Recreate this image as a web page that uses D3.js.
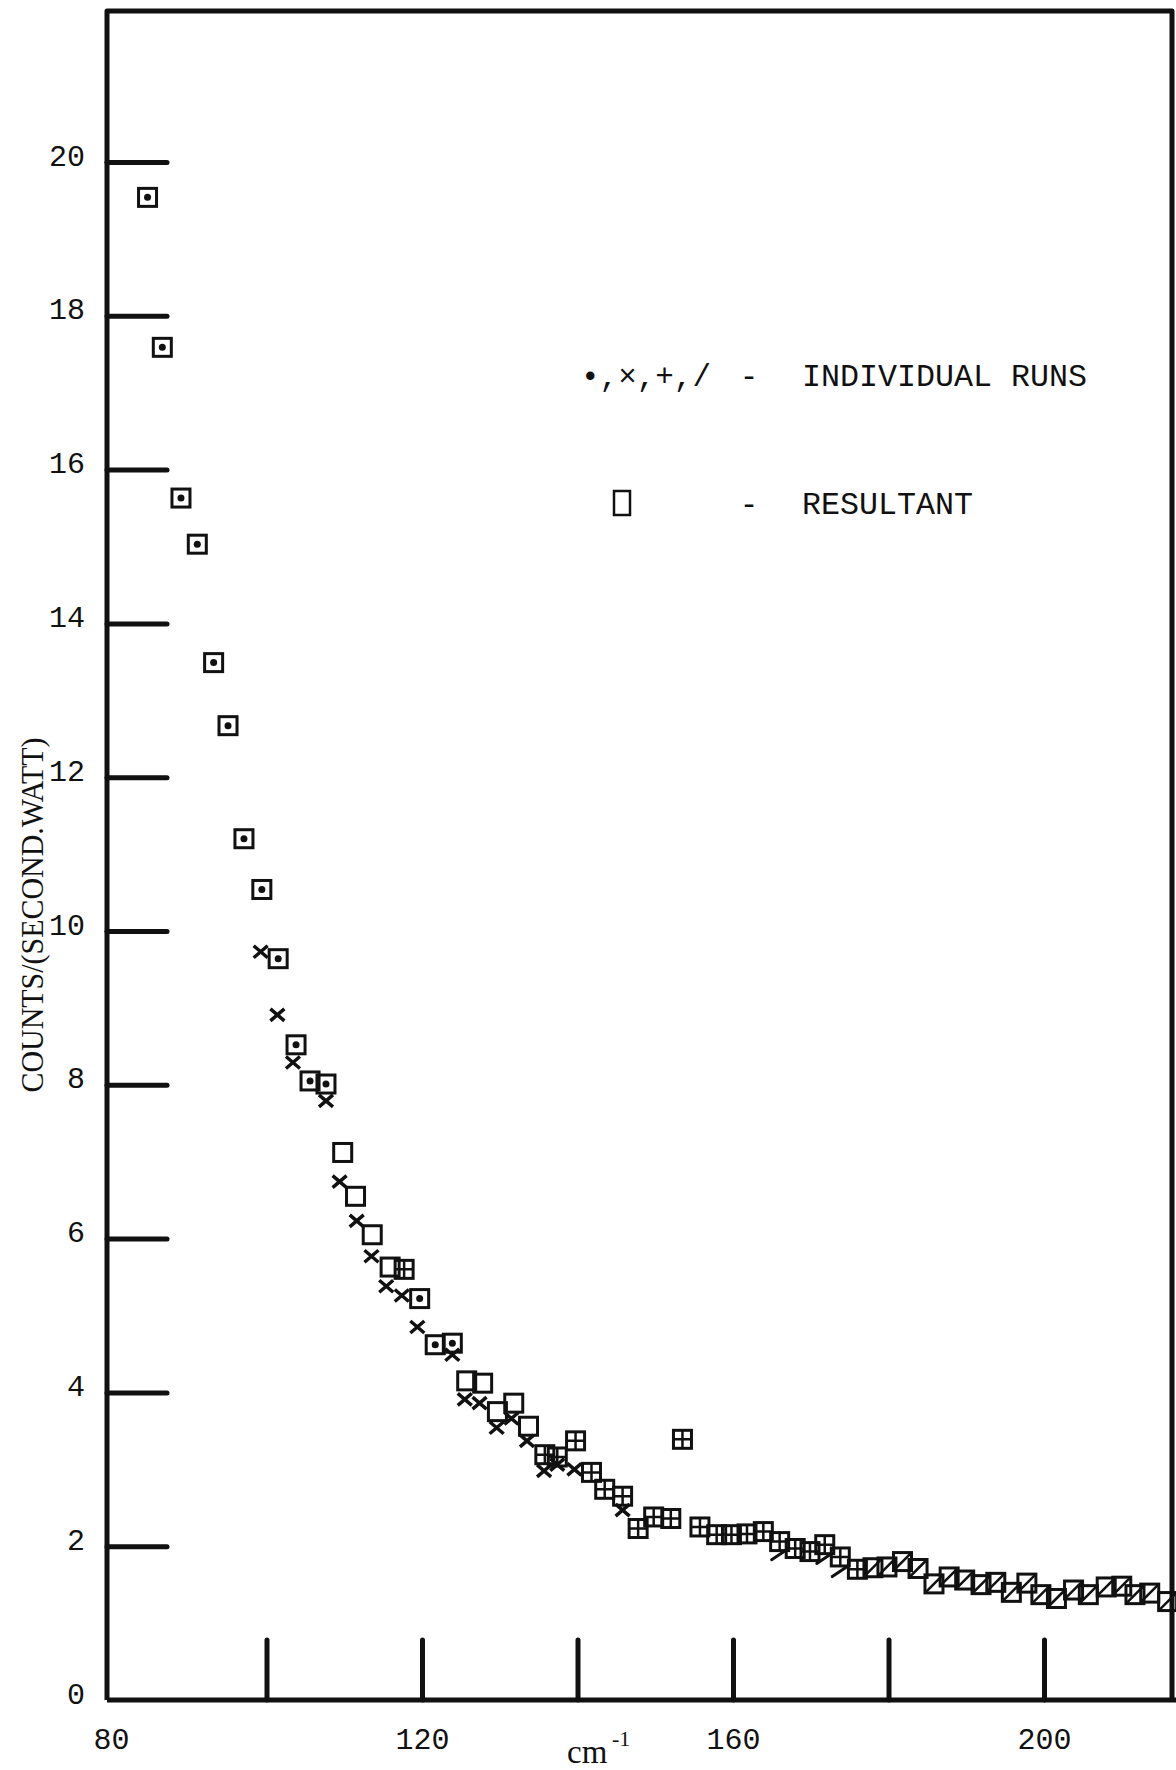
<!DOCTYPE html>
<html>
<head>
<meta charset="utf-8">
<script src="https://cdn.jsdelivr.net/npm/d3@7"></script>
<style>
body { margin: 0; background: #fff; }
</style>
</head>
<body>
<div id="vis"></div>
<script>
// resultant points (squares): wavenumber cm-1, counts/(second.watt), mark inside the square
var resultX = [84.7, 86.6, 89.0, 91.1, 93.2, 95.05, 97.1, 99.4, 101.5, 103.8, 105.6, 107.65,
    109.8, 111.45, 113.6, 115.9, 117.7, 119.7, 121.7, 123.9, 125.75, 127.8, 129.7, 131.8, 133.7,
    135.8, 137.4, 139.75, 141.8, 143.5, 145.8, 147.8, 149.8, 152.0, 153.5, 155.75, 157.9, 159.8,
    161.8, 163.9, 166.0, 168.0, 169.9, 171.8, 173.8, 176.0, 178.0, 179.8, 181.8, 183.8, 185.85,
    187.8, 189.8, 191.9, 193.8, 195.8, 197.8, 199.6, 201.6, 203.8, 205.7, 208.0, 210.0, 211.7,
    213.6, 215.9];
var resultY = [19.54, 17.59, 15.63, 15.03, 13.49, 12.67, 11.2, 10.54, 9.64, 8.52, 8.05, 8.01,
    7.12, 6.55, 6.05, 5.63, 5.60, 5.22, 4.62, 4.64, 4.15, 4.12, 3.75, 3.86, 3.56,
    3.19, 3.16, 3.37, 2.96, 2.74, 2.65, 2.23, 2.38, 2.36, 3.39, 2.25, 2.15, 2.15,
    2.16, 2.19, 2.06, 1.97, 1.93, 2.02, 1.86, 1.70, 1.72, 1.73, 1.80, 1.71, 1.51,
    1.60, 1.56, 1.50, 1.53, 1.40, 1.52, 1.37, 1.32, 1.43, 1.37, 1.47, 1.48, 1.37,
    1.39, 1.28];
var resultMark = ["dot", "dot", "dot", "dot", "dot", "dot", "dot", "dot", "dot", "dot", "dot", "dot",
    "none", "none", "none", "none", "plus", "dot", "dot", "dot", "none", "none", "none", "none", "none",
    "plus", "plus", "plus", "plus", "plus", "plus", "plus", "plus", "plus", "plus", "plus", "plus", "plus",
    "plus", "plus", "plus", "plus", "plus", "plus", "plus", "plus", "slash", "slash", "slash", "slash", "slash",
    "slash", "slash", "slash", "slash", "slash", "slash", "slash", "slash", "slash", "slash", "slash", "slash", "slash",
    "slash", "slash"];

// individual run points drawn as x
var crossX = [99.25, 101.4, 103.4, 107.65, 109.4, 111.6, 113.5, 115.4, 117.4, 119.4, 123.9,
    125.5, 127.4, 129.6, 131.5, 133.5, 135.7, 137.4, 139.6, 145.8];
var crossY = [9.73, 8.91, 8.29, 7.79, 6.74, 6.23, 5.77, 5.38, 5.26, 4.85, 4.49,
    3.91, 3.86, 3.54, 3.66, 3.37, 2.98, 3.06, 3.0, 2.47];

// individual run points drawn as /
var slashX = [166.0, 171.8, 173.8];
var slashY = [1.89, 1.84, 1.67];

var yTicks = [0, 2, 4, 6, 8, 10, 12, 14, 16, 18, 20];
var xTicks = [80, 100, 120, 140, 160, 180, 200];
var xLabels = [80, 120, 160, 200];
var legendLabels = ["INDIVIDUAL RUNS", "RESULTANT"];

var width = 1176, height = 1770;
var ink = "#111";
var mono = "'Liberation Mono', 'DejaVu Sans Mono', monospace";
var serif = "'Liberation Serif', 'DejaVu Serif', serif";

var svg = d3.select("#vis").append("svg")
    .attr("width", width)
    .attr("height", height);

var x = d3.scaleLinear().domain([80, 200]).range([111, 1044]);
var y = d3.scaleLinear().domain([0, 20]).range([1700, 162]);

// frame
var left = x(80) - 4;
svg.append("path")
    .attr("d", "M" + left + "," + y(0) + "L" + left + ",11L1172,11L1172," + y(0))
    .attr("fill", "none")
    .attr("stroke", ink)
    .attr("stroke-width", 5)
    .attr("stroke-linejoin", "round");
svg.append("line")
    .attr("x1", left).attr("x2", width)
    .attr("y1", y(0)).attr("y2", y(0))
    .attr("stroke", ink)
    .attr("stroke-width", 5);

// y axis
var gy = svg.append("g")
    .attr("transform", "translate(" + left + ",0)")
    .call(d3.axisLeft(y).tickValues(yTicks).tickSize(-60).tickPadding(22));
gy.select(".domain").remove();
gy.selectAll(".tick line")
    .attr("stroke", ink)
    .attr("stroke-width", 5)
    .attr("stroke-linecap", "round");
gy.selectAll(".tick").filter(function(d) { return d === 0; }).select("line").remove();
gy.selectAll(".tick text")
    .attr("font-family", mono)
    .attr("font-size", 30)
    .attr("fill", ink)
    .attr("dy", "0.1em");

// x axis
var gx = svg.append("g")
    .attr("transform", "translate(0," + y(0) + ")")
    .call(d3.axisBottom(x).tickValues(xTicks).tickSize(-60).tickPadding(28)
        .tickFormat(function(d) { return xLabels.indexOf(d) >= 0 ? d : ""; }));
gx.select(".domain").remove();
gx.selectAll(".tick line")
    .attr("stroke", ink)
    .attr("stroke-width", 5)
    .attr("stroke-linecap", "round");
gx.selectAll(".tick").filter(function(d) { return d === 80; }).select("line").remove();
gx.selectAll(".tick text")
    .attr("font-family", mono)
    .attr("font-size", 30)
    .attr("fill", ink);

// axis titles
svg.append("text")
    .attr("transform", "translate(32,915) rotate(-90)")
    .attr("text-anchor", "middle")
    .attr("dominant-baseline", "central")
    .attr("font-family", serif)
    .attr("font-size", 31)
    .attr("textLength", 355)
    .attr("lengthAdjust", "spacingAndGlyphs")
    .attr("fill", ink)
    .text("COUNTS/(SECOND.WATT)");

svg.append("text")
    .attr("x", 567).attr("y", 1763)
    .attr("font-family", serif)
    .attr("font-size", 33)
    .attr("fill", ink)
    .text("cm");
svg.append("text")
    .attr("x", 612).attr("y", 1746)
    .attr("font-family", serif)
    .attr("font-size", 22)
    .attr("fill", ink)
    .text("-1");

// individual runs
svg.append("g").selectAll("path")
    .data(crossX.map(function(v, i) { return [v, crossY[i]]; }))
    .join("path")
    .attr("transform", function(d) { return "translate(" + x(d[0]) + "," + y(d[1]) + ")"; })
    .attr("d", "M-7,-6L7,6M-7,6L7,-6")
    .attr("stroke", ink)
    .attr("stroke-width", 3.5)
    .attr("fill", "none");

svg.append("g").selectAll("path")
    .data(slashX.map(function(v, i) { return [v, slashY[i]]; }))
    .join("path")
    .attr("transform", function(d) { return "translate(" + x(d[0]) + "," + y(d[1]) + ")"; })
    .attr("d", "M-8,5L7,-5")
    .attr("stroke", ink)
    .attr("stroke-width", 3)
    .attr("stroke-linecap", "round");

// resultant squares
var res = svg.append("g").selectAll("g")
    .data(resultX.map(function(v, i) { return {x: v, y: resultY[i], m: resultMark[i]}; }))
    .join("g")
    .attr("transform", function(d) { return "translate(" + x(d.x) + "," + y(d.y) + ")"; });

res.append("rect")
    .attr("x", -9).attr("y", -9)
    .attr("width", 18).attr("height", 18)
    .attr("fill", "none")
    .attr("stroke", ink)
    .attr("stroke-width", 3);
res.filter(function(d) { return d.m === "dot"; })
    .append("circle")
    .attr("r", 3.5)
    .attr("fill", ink);
res.filter(function(d) { return d.m === "plus"; })
    .append("path")
    .attr("d", "M-9,0H9M0,-9V9")
    .attr("stroke", ink)
    .attr("stroke-width", 2.5);
res.filter(function(d) { return d.m === "slash"; })
    .append("path")
    .attr("d", "M-9,9L9,-9")
    .attr("stroke", ink)
    .attr("stroke-width", 2.5);

// legend
svg.append("text")
    .attr("x", 581).attr("y", 386)
    .attr("font-family", mono)
    .attr("font-size", 31)
    .attr("textLength", 130)
    .attr("lengthAdjust", "spacingAndGlyphs")
    .attr("fill", ink)
    .text("\u2022,\u00d7,+,/");
svg.append("rect")
    .attr("x", 614).attr("y", 491)
    .attr("width", 16).attr("height", 24)
    .attr("fill", "none")
    .attr("stroke", ink)
    .attr("stroke-width", 2.5);

var legendY = [386, 514];
legendLabels.forEach(function(d, i) {
    svg.append("text")
        .attr("x", 749).attr("y", legendY[i])
        .attr("text-anchor", "middle")
        .attr("font-family", mono)
        .attr("font-size", 31)
        .attr("fill", ink)
        .text("-");
    svg.append("text")
        .attr("x", 802).attr("y", legendY[i])
        .attr("font-family", mono)
        .attr("font-size", 31)
        .attr("textLength", d.length * 19)
        .attr("lengthAdjust", "spacingAndGlyphs")
        .attr("fill", ink)
        .text(d);
});
</script>
</body>
</html>
